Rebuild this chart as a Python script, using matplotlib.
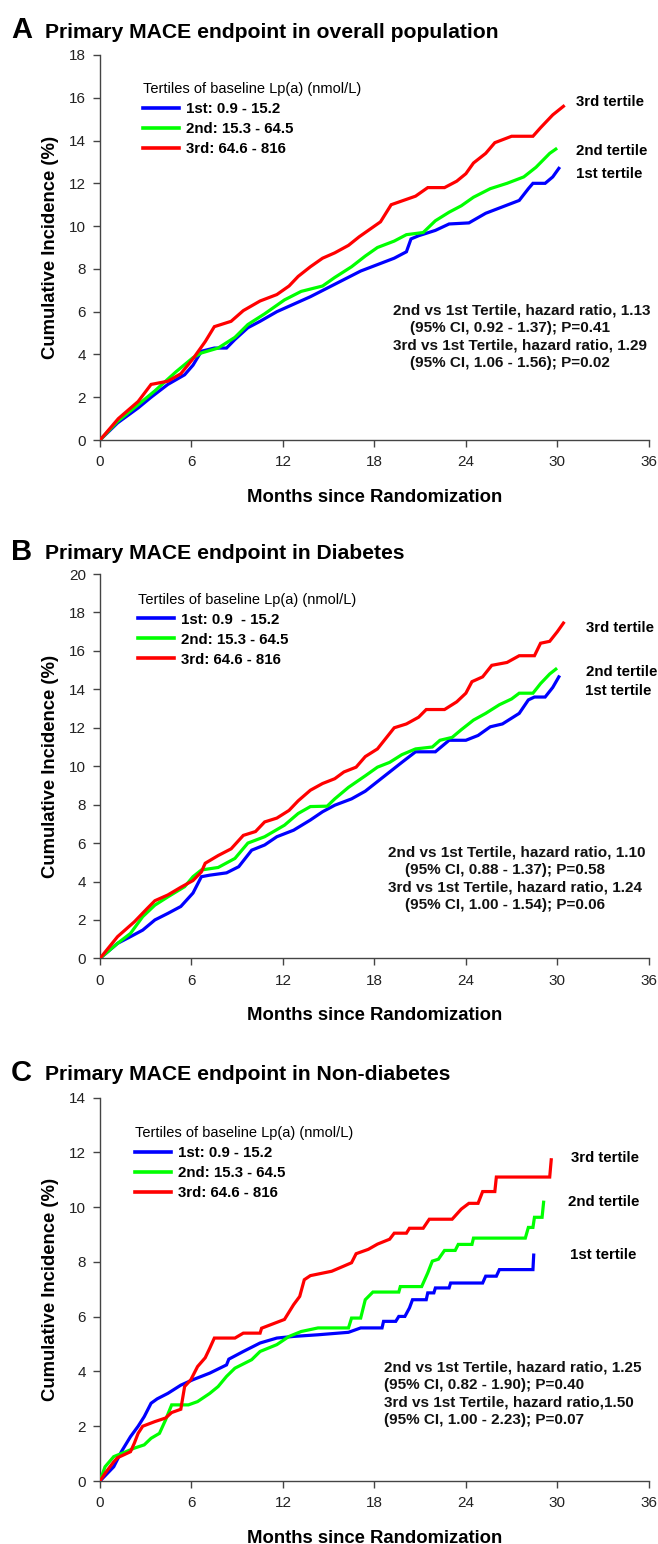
import matplotlib
matplotlib.use("Agg")
import matplotlib.pyplot as plt
from matplotlib.lines import Line2D

plt.rcParams['font.family'] = ['Liberation Sans', 'DejaVu Sans']

# ---- data ----
# Panel A: overall population
a_blue_x = [0, 1.15, 2.5, 3.35, 4.45, 5.55, 6.1, 6.65, 7.5, 8.3, 8.85, 9.7, 10.5, 11.6, 12.7,
            13.8, 14.9, 16.0, 17.1, 18.2, 19.3, 20.1, 20.4, 20.9, 22.0, 22.9, 24.2, 25.3, 26.4,
            27.5, 28.1, 28.4, 29.2, 29.7, 30.1]
a_blue_y = [0, 0.8, 1.5, 2.0, 2.6, 3.05, 3.5, 4.15, 4.3, 4.3, 4.7, 5.25, 5.55, 6.0, 6.35,
            6.7, 7.1, 7.5, 7.9, 8.2, 8.5, 8.8, 9.4, 9.55, 9.8, 10.1, 10.15, 10.6, 10.9,
            11.2, 11.75, 12.0, 12.0, 12.3, 12.7]
a_green_x = [0, 1.15, 2.5, 3.6, 5.0, 6.1, 6.65, 7.75, 8.85, 9.7, 10.8, 12.1, 13.2, 14.6, 15.4,
             16.5, 17.4, 18.2, 19.3, 20.1, 21.2, 22.0, 22.9, 23.7, 24.5, 25.6, 26.7, 27.8,
             28.6, 29.5, 29.9]
a_green_y = [0, 0.87, 1.65, 2.3, 3.2, 3.85, 4.07, 4.3, 4.8, 5.4, 5.9, 6.55, 6.95, 7.2, 7.6,
             8.1, 8.6, 9.0, 9.3, 9.6, 9.7, 10.25, 10.65, 10.95, 11.35, 11.75, 12.0, 12.3,
             12.75, 13.4, 13.6]
a_red_x = [0, 1.2, 2.5, 3.35, 4.45, 5.3, 6.1, 6.9, 7.5, 8.6, 9.4, 10.5, 11.6, 12.4, 13.0, 13.8,
           14.6, 15.4, 16.3, 17.0, 17.6, 18.4, 19.1, 19.9, 20.7, 21.5, 22.6, 23.4, 24.0, 24.5,
           25.3, 25.9, 27.0, 28.4, 28.9, 29.7, 30.4]
a_red_y = [0, 1.0, 1.8, 2.6, 2.75, 3.1, 3.8, 4.6, 5.3, 5.55, 6.05, 6.5, 6.8, 7.2, 7.65, 8.1,
           8.5, 8.75, 9.1, 9.5, 9.8, 10.2, 11.0, 11.2, 11.4, 11.8, 11.8, 12.1, 12.45, 12.95,
           13.4, 13.9, 14.2, 14.2, 14.6, 15.2, 15.6]

# Panel B: diabetes
b_blue_x = [0, 1.15, 2.0, 2.8, 3.6, 4.45, 5.3, 6.1, 6.65, 7.2, 8.3, 9.1, 9.95, 10.8, 11.6, 12.7,
            13.8, 14.6, 15.4, 16.5, 17.4, 18.2, 19.0, 19.8, 20.7, 22.0, 22.9, 24.0, 24.8, 25.6,
            26.4, 27.0, 27.5, 28.1, 28.5, 29.2, 29.7, 30.1]
b_blue_y = [0, 0.78, 1.13, 1.47, 2.0, 2.34, 2.7, 3.4, 4.25, 4.33, 4.45, 4.77, 5.63, 5.9, 6.33,
            6.67, 7.2, 7.63, 7.97, 8.3, 8.7, 9.2, 9.7, 10.2, 10.75, 10.75, 11.35, 11.35, 11.6,
            12.05, 12.2, 12.5, 12.75, 13.45, 13.6, 13.6, 14.1, 14.65]
b_green_x = [0, 1.15, 2.0, 2.8, 3.6, 4.45, 5.55, 6.1, 6.65, 7.75, 8.85, 9.7, 10.8, 12.1, 13.0,
             13.8, 14.9, 15.4, 16.3, 17.4, 18.2, 19.0, 19.8, 20.7, 21.8, 22.3, 23.1, 23.7, 24.5,
             25.3, 26.2, 27.0, 27.5, 28.4, 28.9, 29.5, 29.9]
b_green_y = [0, 0.78, 1.3, 2.17, 2.77, 3.2, 3.73, 4.25, 4.6, 4.73, 5.2, 6.0, 6.33, 6.93, 7.54,
             7.9, 7.92, 8.3, 8.9, 9.5, 9.95, 10.2, 10.6, 10.9, 11.0, 11.35, 11.5, 11.9, 12.4,
             12.75, 13.2, 13.5, 13.8, 13.8, 14.3, 14.8, 15.05]
b_red_x = [0, 1.15, 2.25, 3.1, 3.6, 4.45, 5.3, 6.1, 6.65, 6.9, 7.75, 8.6, 9.4, 10.2, 10.8, 11.6,
           12.4, 13.0, 13.8, 14.6, 15.4, 16.0, 16.8, 17.4, 18.2, 19.0, 19.3, 20.1, 20.9, 21.4,
           22.6, 23.4, 24.0, 24.4, 25.1, 25.7, 26.7, 27.5, 28.5, 28.9, 29.5, 30.0, 30.4]
b_red_y = [0, 1.13, 1.9, 2.6, 3.0, 3.3, 3.7, 4.05, 4.5, 4.95, 5.35, 5.7, 6.4, 6.6, 7.1, 7.3,
           7.7, 8.2, 8.75, 9.1, 9.35, 9.7, 9.95, 10.5, 10.9, 11.7, 12.0, 12.2, 12.55, 12.95,
           12.95, 13.35, 13.8, 14.4, 14.65, 15.25, 15.4, 15.75, 15.75, 16.4, 16.5, 17.0, 17.45]

# Panel C: non-diabetes
c_blue_x = [0, 0.9, 1.4, 2.0, 2.5, 2.9, 3.35, 3.75, 4.45, 5.3, 6.1, 7.2, 8.3, 8.45, 9.4, 10.5,
            11.6, 12.7, 14.3, 16.3, 17.1, 18.5, 18.6, 19.4, 19.6, 20.0, 20.3, 20.5, 21.4, 21.5,
            21.9, 22.0, 22.9, 23.0, 25.1, 25.3, 26.0, 26.2, 28.4, 28.45]
c_blue_y = [0, 0.52, 1.07, 1.62, 2.0, 2.35, 2.84, 3.0, 3.2, 3.5, 3.7, 3.94, 4.24, 4.45, 4.73,
            5.04, 5.22, 5.28, 5.34, 5.43, 5.59, 5.59, 5.83, 5.83, 6.01, 6.01, 6.32, 6.62, 6.62,
            6.87, 6.87, 7.05, 7.05, 7.23, 7.23, 7.48, 7.48, 7.72, 7.72, 8.25]
c_green_x = [0, 0.33, 0.9, 1.7, 2.25, 2.9, 3.35, 3.9, 4.3, 4.7, 5.8, 6.4, 7.2, 7.75, 8.3, 8.85,
             9.95, 10.5, 11.6, 12.4, 13.2, 14.3, 16.3, 16.5, 17.1, 17.4, 17.9, 19.6, 19.7, 21.1,
             21.5, 21.8, 22.2, 22.6, 23.3, 23.5, 24.4, 24.5, 27.9, 28.1, 28.4, 28.5, 29.0, 29.1]
c_green_y = [0, 0.52, 0.89, 1.07, 1.2, 1.32, 1.56, 1.74, 2.23, 2.78, 2.78, 2.9, 3.2, 3.45, 3.82,
             4.12, 4.43, 4.73, 4.98, 5.28, 5.46, 5.59, 5.59, 5.95, 5.95, 6.62, 6.9, 6.9, 7.1, 7.1,
             7.6, 8.03, 8.1, 8.42, 8.42, 8.64, 8.64, 8.87, 8.87, 9.26, 9.26, 9.63, 9.63, 10.18]
c_red_x = [0, 0.33, 0.9, 1.15, 2.0, 2.25, 2.5, 2.8, 3.6, 4.3, 4.7, 5.3, 5.55, 5.96, 6.4, 6.9,
           7.2, 7.5, 8.85, 9.4, 10.5, 10.6, 12.1, 12.7, 13.1, 13.4, 13.8, 15.2, 16.0, 16.5, 16.8,
           17.6, 18.2, 19.0, 19.3, 20.1, 20.3, 21.2, 21.6, 23.1, 23.7, 24.2, 24.8, 25.1, 25.9,
           26.0, 29.5, 29.6]
c_red_y = [0, 0.28, 0.7, 0.85, 1.07, 1.38, 1.74, 2.0, 2.17, 2.3, 2.5, 2.62, 3.45, 3.7, 4.18,
           4.5, 4.85, 5.22, 5.22, 5.4, 5.4, 5.58, 5.9, 6.44, 6.74, 7.35, 7.5, 7.66, 7.85, 7.97,
           8.3, 8.46, 8.65, 8.83, 9.05, 9.05, 9.23, 9.23, 9.56, 9.56, 9.93, 10.14, 10.14, 10.57,
           10.57, 11.1, 11.1, 11.73]

legend_labels_a = ['1st: 0.9 - 15.2', '2nd: 15.3 - 64.5', '3rd: 64.6 - 816']
legend_labels_b = ['1st: 0.9  - 15.2', '2nd: 15.3 - 64.5', '3rd: 64.6 - 816']
tertile_names = ['1st tertile', '2nd tertile', '3rd tertile']

COLORS = ['#0000FF', '#00FF00', '#FF0000']
H = 1544.0
AX_W = 0.834

panels = [
    dict(letter='A', title='Primary MACE endpoint in overall population',
         rect=[0.152, 0.715, AX_W, 0.2494], ymax=18,
         curves=[(a_blue_x, a_blue_y), (a_green_x, a_green_y), (a_red_x, a_red_y)],
         labels=legend_labels_a, leg_xy=(0.078, 0.93),
         tert_pos=[(31.2, 12.45), (31.2, 13.5), (31.2, 15.8)],
         stats=['2nd vs 1st Tertile, hazard ratio, 1.13',
                '    (95% CI, 0.92 - 1.37); P=0.41',
                '3rd vs 1st Tertile, hazard ratio, 1.29',
                '    (95% CI, 1.06 - 1.56); P=0.02'],
         stats_xy=(19.2, 6.36), title_y=37.5, letter_y=38.5),
    dict(letter='B', title='Primary MACE endpoint in Diabetes',
         rect=[0.152, 0.3793, AX_W, 0.2489], ymax=20,
         curves=[(b_blue_x, b_blue_y), (b_green_x, b_green_y), (b_red_x, b_red_y)],
         labels=legend_labels_b, leg_xy=(0.069, 0.952),
         tert_pos=[(31.8, 13.9), (31.9, 14.88), (31.9, 17.17)],
         stats=['2nd vs 1st Tertile, hazard ratio, 1.10',
                '    (95% CI, 0.88 - 1.37); P=0.58',
                '3rd vs 1st Tertile, hazard ratio, 1.24',
                '    (95% CI, 1.00 - 1.54); P=0.06'],
         stats_xy=(18.9, 5.85), title_y=559, letter_y=560),
    dict(letter='C', title='Primary MACE endpoint in Non-diabetes',
         rect=[0.152, 0.0408, AX_W, 0.2483], ymax=14,
         curves=[(c_blue_x, c_blue_y), (c_green_x, c_green_y), (c_red_x, c_red_y)],
         labels=legend_labels_a, leg_xy=(0.063, 0.925),
         tert_pos=[(30.8, 8.24), (30.7, 10.2), (30.9, 11.8)],
         stats=['2nd vs 1st Tertile, hazard ratio, 1.25',
                '(95% CI, 0.82 - 1.90); P=0.40',
                '3rd vs 1st Tertile, hazard ratio,1.50',
                '(95% CI, 1.00 - 2.23); P=0.07'],
         stats_xy=(18.6, 4.39), title_y=1080, letter_y=1081),
]

fig = plt.figure(figsize=(6.58, 15.44), dpi=100)

for p in panels:
    ax = fig.add_axes(p['rect'])
    for (x, y), c in zip(p['curves'], COLORS):
        ax.plot(x, y, color=c, linewidth=2.3, solid_joinstyle='miter', zorder=3)

    ax.set_xlim(0, 36)
    ax.set_ylim(0, p['ymax'])
    ax.set_xticks(range(0, 37, 6))
    ax.set_yticks(range(0, p['ymax'] + 1, 2))
    for s in ['top', 'right']:
        ax.spines[s].set_visible(False)
    for s in ['left', 'bottom']:
        ax.spines[s].set_color('#444444')
        ax.spines[s].set_linewidth(1.0)
    ax.tick_params(direction='out', length=5, width=1.0, color='#444444',
                   labelsize=11, labelcolor='#222222')
    ax.tick_params(axis='y', pad=5)
    ax.tick_params(axis='x', pad=6)
    ax.set_xlabel('Months since Randomization', fontsize=13.3, fontweight='bold', labelpad=14)
    ax.set_ylabel('Cumulative Incidence (%)', fontsize=13.3, fontweight='bold', labelpad=7)

    handles = [Line2D([], [], color=c, linewidth=2.6) for c in COLORS]
    ax.legend(handles, p['labels'], title='Tertiles of baseline Lp(a) (nmol/L)',
              loc='upper left', bbox_to_anchor=p['leg_xy'], frameon=False,
              prop={'size': 10.8, 'weight': 'bold'}, title_fontsize=10.5,
              alignment='left', handlelength=2.4, handletextpad=0.5,
              labelspacing=0.4, borderpad=0, borderaxespad=0)

    for name, (tx, ty) in zip(tertile_names, p['tert_pos']):
        ax.text(tx, ty, name, fontsize=10.8, fontweight='bold', ha='left', va='center',
                clip_on=False)

    ax.text(p['stats_xy'][0], p['stats_xy'][1], '\n'.join(p['stats']), fontsize=11,
            fontweight='bold', ha='left', va='top', linespacing=1.3, color='#111111')

    fig.text(11 / 658, 1 - p['letter_y'] / H, p['letter'], fontsize=21, fontweight='bold',
             ha='left', va='baseline')
    fig.text(45 / 658, 1 - p['title_y'] / H, p['title'], fontsize=15.2, fontweight='bold',
             ha='left', va='baseline')

fig.savefig('out.png', dpi=100)
